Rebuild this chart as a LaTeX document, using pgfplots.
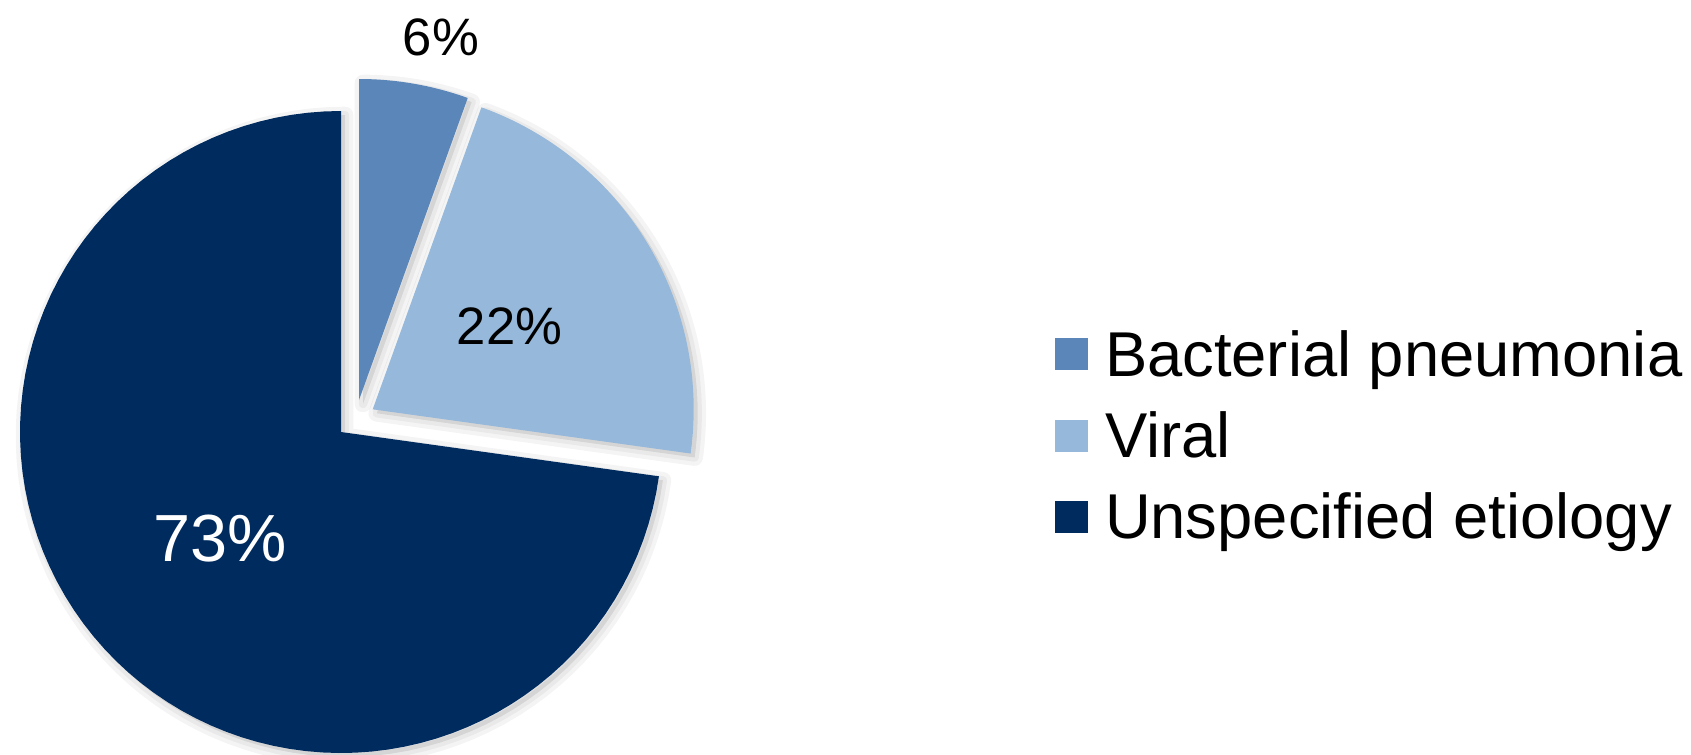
\documentclass[border=0pt]{standalone}
\usepackage{fontspec}
\setmainfont{Liberation Sans}
\usepackage{pgfplots}
\usepackage{pgfplotstable}
\pgfplotsset{compat=1.18}
\definecolor{cB}{HTML}{5B86B9}
\definecolor{cV}{HTML}{95B8DB}
\definecolor{cU}{HTML}{002B5F}

\pgfplotstableread{
label value
Bacterial 5.5
Viral 21.7
Unspecified 72.8
}\piedata

\newcommand\slice[5]{% #1 style, #2 cx, #3 cy, #4 a1, #5 a2
  \addplot[#1, domain=#4:#5, samples=90] ({#2+\R*cos(x)},{#3+\R*sin(x)}) -- (axis cs:#2,#3) -- cycle;
}
\newcommand\shadowslice[4]{%
  \slice{forget plot, fill=black, draw=black, fill opacity=0.045, draw opacity=0.045, line width=5pt, line join=round}{#1}{#2}{#3}{#4}
  \slice{forget plot, fill=black, draw=black, fill opacity=0.045, draw opacity=0.045, line width=2.5pt, line join=round}{#1}{#2}{#3}{#4}
}

\begin{document}
\begin{tikzpicture}
\pgfplotstablegetelem{0}{value}\of\piedata \let\vB\pgfplotsretval
\pgfplotstablegetelem{1}{value}\of\piedata \let\vV\pgfplotsretval
\pgfplotstablegetelem{2}{value}\of\piedata \let\vU\pgfplotsretval
\pgfmathsetmacro\aB{90-3.6*\vB}
\pgfmathsetmacro\aV{\aB-3.6*\vV}
\pgfmathsetmacro\aU{90+3.6*\vU}
\def\R{321}
\def\mx{341}\def\my{322}
\def\bx{359}\def\by{354}
\def\vx{372.7}\def\vy{344.7}
\def\smx{345}\def\smy{318}
\def\sbx{363}\def\sby{350}
\def\svx{376.7}\def\svy{340.7}
\begin{axis}[
  width=507.3pt, height=226.2pt, scale only axis,
  xmin=0, xmax=1691, ymin=0, ymax=754,
  axis lines=none,
  legend style={at={(0.6239,0.5676)}, anchor=north west, draw=none, fill=none,
    inner sep=0pt, outer sep=0pt, font=\fontsize{19}{23}\selectfont,
    row sep=7.4pt, column sep=5.2pt,
    nodes={inner sep=0pt, text height=15pt, text depth=2pt}},
  legend cell align=left,
  legend image code/.code={\fill[#1] (0pt,-4.8pt) rectangle (9.8pt,4.8pt);},
]
\path (axis cs:0,0) rectangle (axis cs:1691,754);
% shadows
\shadowslice{\smx}{\smy}{90}{\aU}
\shadowslice{\sbx}{\sby}{\aB}{90}
\shadowslice{\svx}{\svy}{\aV}{\aB}
% slices
\slice{fill=cB, draw=none}{\bx}{\by}{\aB}{90}
\addlegendentry{Bacterial pneumonia}
\slice{fill=cV, draw=none}{\vx}{\vy}{\aV}{\aB}
\addlegendentry{Viral}
\slice{fill=cU, draw=none}{\mx}{\my}{90}{\aU}
\addlegendentry{Unspecified etiology}
% labels
\node[inner sep=0pt, font=\fontsize{15.8}{18}\selectfont] at (axis cs:441,716.5) {6\%};
\node[inner sep=0pt, font=\fontsize{15.8}{18}\selectfont] at (axis cs:509.5,427.5) {22\%};
\node[inner sep=0pt, text=white, font=\fontsize{20}{24}\selectfont] at (axis cs:220,215) {73\%};
\end{axis}
\end{tikzpicture}
\end{document}
